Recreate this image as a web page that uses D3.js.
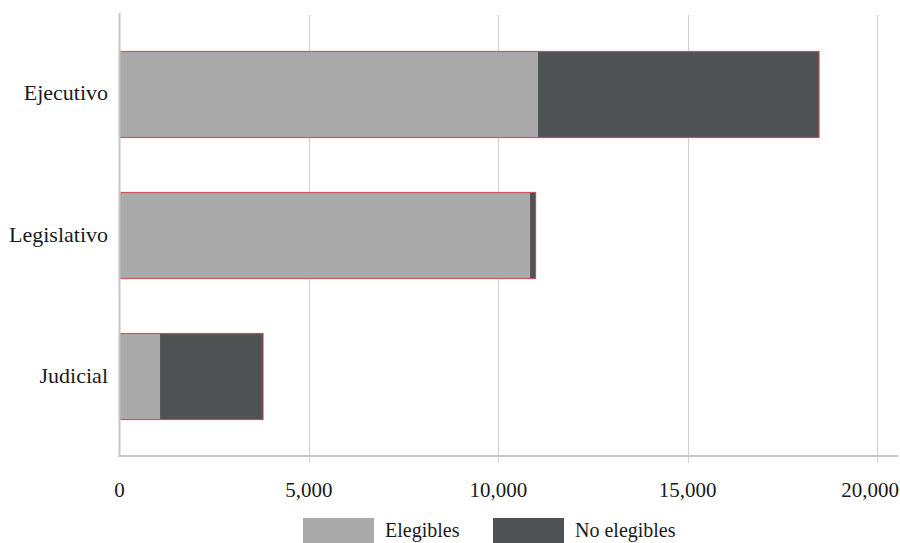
<!DOCTYPE html>
<html>
<head>
<meta charset="utf-8">
<script src="https://cdn.jsdelivr.net/npm/d3@7"></script>
<style>
  html, body { margin: 0; padding: 0; background: #fff; }
  svg { display: block; }
  svg text { font-family: "Liberation Serif", "Times New Roman", serif; }
</style>
</head>
<body>
<svg id="chart" width="900" height="543"></svg>
<script>
// Staff by branch of government, split by eligibility
const branches = ["Ejecutivo", "Legislativo", "Judicial"];
const elegibles = [11050, 10840, 1070];
const noElegibles = [7420, 145, 2720];
const seriesNames = ["Elegibles", "No elegibles"];
const seriesColors = ["#a9aaa9", "#505354"];
const xTicks = [0, 5000, 10000, 15000, 20000];

const svg = d3.select("#chart");
const plotLeft = 119.5, plotRight = 877, plotTop = 12, plotBottom = 456;
const textColor = "#1a1a1a";

const x = d3.scaleLinear().domain([0, 20000]).range([plotLeft, plotRight]);
const y = d3.scaleBand().domain(branches).range([plotTop, plotBottom + 3])
  .paddingInner(0.39).paddingOuter(0.28);

// vertical gridlines with short tick stubs below the baseline
svg.append("g").selectAll("line").data(xTicks.slice(1)).join("line")
  .attr("x1", d => Math.round(x(d)) + 0.5).attr("x2", d => Math.round(x(d)) + 0.5)
  .attr("y1", plotTop + 3).attr("y2", plotBottom + 7)
  .attr("stroke", "#d2d2d2").attr("stroke-width", 1);

// stacked bars
const rows = branches.map((b, i) => ({ b, e: elegibles[i], n: noElegibles[i] }));
const stack = d3.stack().keys(["e", "n"])(rows);
svg.append("g").selectAll("g").data(stack).join("g")
  .attr("fill", (d, i) => seriesColors[i])
  .selectAll("rect").data(d => d).join("rect")
  .attr("x", d => x(d[0])).attr("width", d => x(d[1]) - x(d[0]))
  .attr("y", d => y(d.data.b)).attr("height", y.bandwidth());

// outline around each bar total
svg.append("g").selectAll("rect").data(rows).join("rect")
  .attr("x", x(0)).attr("width", d => x(d.e + d.n) - x(0))
  .attr("y", d => y(d.b)).attr("height", y.bandwidth())
  .attr("fill", "none").attr("stroke", "#c9434e").attr("stroke-width", 1.2)
  .attr("stroke-opacity", 0.85);

// axis lines
svg.append("line").attr("x1", plotLeft).attr("x2", plotLeft).attr("y1", plotTop + 1).attr("y2", plotBottom + 1)
  .attr("stroke", "#c6c6c6").attr("stroke-width", 2);
svg.append("line").attr("x1", plotLeft - 1).attr("x2", 898).attr("y1", plotBottom).attr("y2", plotBottom)
  .attr("stroke", "#c6c6c6").attr("stroke-width", 2);

// tick labels (the last one kept inside the right edge)
const lastTick = xTicks[xTicks.length - 1];
svg.append("g").selectAll("text").data(xTicks).join("text")
  .attr("x", d => d === lastTick ? 899 : x(d)).attr("y", 497)
  .attr("text-anchor", d => d === lastTick ? "end" : "middle")
  .attr("font-size", 21).attr("fill", textColor).text(d => d3.format(",")(d));

// category labels
svg.append("g").selectAll("text").data(branches).join("text")
  .attr("x", 108).attr("y", d => y(d) + y.bandwidth() / 2 + 6)
  .attr("text-anchor", "end").attr("font-size", 22).attr("fill", textColor).text(d => d);

// legend
const legendX = [303, 493];
const lg = svg.append("g").selectAll("g").data(seriesNames).join("g")
  .attr("transform", (d, i) => `translate(${legendX[i]},518)`);
lg.append("rect").attr("width", 71).attr("height", 26).attr("fill", (d, i) => seriesColors[i]);
lg.append("text").attr("x", 82).attr("y", 19).attr("font-size", 20).attr("fill", textColor).text(d => d);
</script>
</body>
</html>
